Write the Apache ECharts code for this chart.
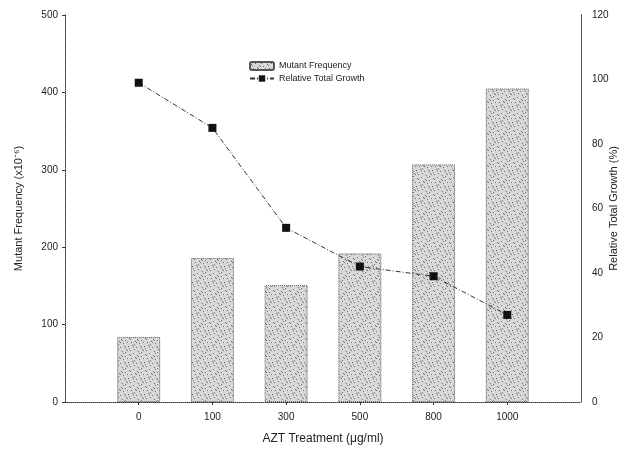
<!DOCTYPE html>
<html>
<head>
<meta charset="utf-8">
<script src="https://cdn.jsdelivr.net/npm/echarts@6/dist/echarts.min.js"></script>
<style>
  html, body { margin: 0; padding: 0; background: #fff; }
  #chart { width: 636px; height: 452px; }
</style>
</head>
<body>
<div id="chart"></div>
<script>
// data
const categories = ['0', '100', '300', '500', '800', '1000'];
const mutantFrequency = [84, 186, 151, 192, 307, 405];
const relativeGrowth = [99, 85, 54, 42, 39, 27];
const leftTicks = [0, 100, 200, 300, 400, 500];
const rightTicks = [0, 20, 40, 60, 80, 100, 120];

// stippled fill for the bars (fixed pattern, not data)
function makeStipple() {
    const c = document.createElement('canvas');
    c.width = 16; c.height = 16;
    const ctx = c.getContext('2d');
    ctx.fillStyle = '#d8d8d8';
    ctx.fillRect(0, 0, 16, 16);
    ctx.fillStyle = '#707070';
    const dots = [[1,2],[2,3],[5,1],[9,3],[10,4],[13,0],[3,6],[7,5],[8,6],[11,7],[15,6],[0,10],[4,9],[5,10],
                  [8,11],[12,10],[13,11],[2,14],[6,13],[10,15],[14,13],[15,14],[6,8],[13,4],[1,12],[11,1]];
    dots.forEach(d => ctx.fillRect(d[0], d[1], 1, 1));
    return c;
}

// pad with one empty slot at each end so the bars sit where they do in the picture
const axisCats = [''].concat(categories, ['']);
const barData = [null].concat(mutantFrequency, [null]);
const lineData = [null].concat(relativeGrowth, [null]);

const chart = echarts.init(document.getElementById('chart'));
const axisLine = { show: true, lineStyle: { color: '#333', type: 'dotted', width: 1 } };
const labelStyle = { color: '#222', fontSize: 10, fontFamily: 'Liberation Sans' };

chart.setOption({
    animation: false,
    grid: { left: 65, right: 55, top: 15, bottom: 50 },
    legend: {
        top: 56, left: 244, orient: 'vertical', itemGap: 3,
        itemWidth: 24, itemHeight: 8,
        textStyle: { fontSize: 9, color: '#222', fontFamily: 'Liberation Sans' },
        data: ['Mutant Frequency', 'Relative Total Growth']
    },
    xAxis: {
        type: 'category',
        data: axisCats,
        boundaryGap: false,
        name: 'AZT Treatment (μg/ml)',
        nameLocation: 'middle',
        nameGap: 31,
        nameTextStyle: { fontSize: 12, color: '#222', fontFamily: 'Liberation Sans' },
        axisLine: axisLine,
        axisTick: { show: true, length: 3, interval: (i) => i > 0 && i < axisCats.length - 1, lineStyle: { color: '#333' } },
        axisLabel: Object.assign({ margin: 10, interval: 0 }, labelStyle),
        splitLine: { show: false }
    },
    yAxis: [{
        type: 'value',
        min: leftTicks[0], max: leftTicks[leftTicks.length - 1], interval: 100,
        name: 'Mutant Frequency (x10\u207B\u2076)',
        nameLocation: 'middle',
        nameGap: 41,
        nameTextStyle: { fontSize: 11, color: '#222', fontFamily: 'Liberation Sans' },
        axisLine: axisLine,
        axisTick: { show: true, length: 3, lineStyle: { color: '#333' } },
        axisLabel: Object.assign({ margin: 7 }, labelStyle),
        splitLine: { show: false }
    }, {
        type: 'value',
        min: rightTicks[0], max: rightTicks[rightTicks.length - 1], interval: 20,
        name: 'Relative Total Growth (%)',
        nameLocation: 'middle',
        nameGap: 27,
        nameRotate: 90,
        nameMoveOverlap: false,
        nameTextStyle: { fontSize: 11, color: '#222', fontFamily: 'Liberation Sans' },
        axisLine: axisLine,
        axisTick: { show: false },
        axisLabel: Object.assign({ margin: 11 }, labelStyle),
        splitLine: { show: false }
    }],
    series: [{
        name: 'Mutant Frequency',
        type: 'bar',
        data: barData,
        barWidth: 43,
        itemStyle: {
            color: { image: makeStipple(), repeat: 'repeat' },
            borderColor: '#555', borderWidth: 1, borderType: 'dotted'
        }
    }, {
        name: 'Relative Total Growth',
        type: 'line',
        yAxisIndex: 1,
        data: lineData,
        symbol: 'rect',
        symbolSize: 8,
        lineStyle: { color: '#333', width: 1, type: [5, 2, 1, 2] },
        itemStyle: { color: '#111' },
        z: 3
    }]
});
</script>
</body>
</html>
